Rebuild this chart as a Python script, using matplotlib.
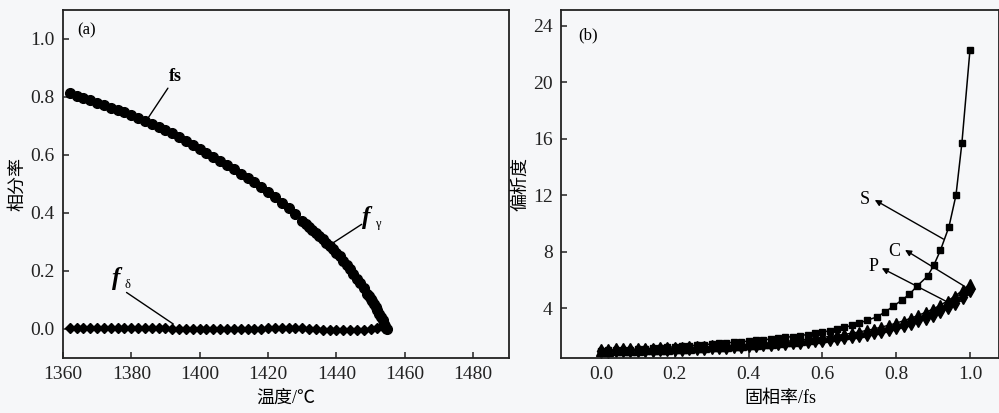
import matplotlib
matplotlib.use("Agg")
import matplotlib.pyplot as plt

# ---------------- data: panel (a) ----------------
temp_fs = [1362, 1364, 1366, 1368, 1370, 1372, 1374, 1376, 1378, 1380,
           1382, 1384, 1386, 1388, 1390, 1392, 1394, 1396, 1398, 1400,
           1402, 1404, 1406, 1408, 1410, 1412, 1414, 1416, 1418, 1420,
           1422, 1424, 1426, 1428, 1430, 1431, 1432, 1433, 1434, 1435,
           1436, 1437, 1438, 1439, 1440, 1441, 1442, 1443, 1444, 1445,
           1446, 1447, 1448, 1449, 1449.5, 1450, 1450.5, 1451, 1451.5, 1452,
           1452.5, 1453, 1453.5, 1454, 1454.3, 1454.7]
frac_fs = [0.815, 0.805, 0.797, 0.788, 0.779, 0.771, 0.763, 0.755, 0.747, 0.739,
           0.728, 0.718, 0.708, 0.698, 0.687, 0.675, 0.662, 0.649, 0.635, 0.620,
           0.606, 0.592, 0.578, 0.564, 0.550, 0.536, 0.521, 0.506, 0.490, 0.473,
           0.455, 0.436, 0.416, 0.395, 0.373, 0.362, 0.352, 0.341, 0.331, 0.320,
           0.309, 0.298, 0.287, 0.275, 0.263, 0.250, 0.236, 0.221, 0.206, 0.190,
           0.174, 0.157, 0.140, 0.122, 0.113, 0.104, 0.095, 0.085, 0.075, 0.064,
           0.053, 0.042, 0.030, 0.018, 0.010, 0.000]

temp_delta = [1362, 1364, 1366, 1368, 1370, 1372, 1374, 1376, 1378, 1380,
              1382, 1384, 1386, 1388, 1390, 1392, 1394, 1396, 1398, 1400,
              1402, 1404, 1406, 1408, 1410, 1412, 1414, 1416, 1418, 1420,
              1422, 1424, 1426, 1428, 1430, 1432, 1434, 1436, 1438, 1440,
              1442, 1444, 1446, 1448, 1450, 1452, 1454]
frac_delta = [0.002, 0.002, 0.002, 0.002, 0.002, 0.002, 0.002, 0.002, 0.002, 0.002,
              0.002, 0.002, 0.002, 0.002, 0.002, 0.001, 0.001, 0.001, 0.001, 0.001,
              0.001, 0.001, 0.001, 0.001, 0.001, 0.001, 0.001, 0.001, 0.001, 0.002,
              0.002, 0.002, 0.002, 0.002, 0.002, 0.001, 0.000, -0.002, -0.003, -0.003,
              -0.003, -0.003, -0.003, -0.002, 0.000, 0.002, 0.004]

xticks_a = [1360, 1380, 1400, 1420, 1440, 1460, 1480]
yticks_a = [0.0, 0.2, 0.4, 0.6, 0.8, 1.0]

# ---------------- data: panel (b) ----------------
fs_S = [0.00, 0.02, 0.04, 0.06, 0.08, 0.10, 0.12, 0.14, 0.16, 0.18,
        0.20, 0.22, 0.24, 0.26, 0.28, 0.30, 0.32, 0.34, 0.36, 0.38,
        0.40, 0.42, 0.44, 0.46, 0.48, 0.50, 0.52, 0.54, 0.56, 0.58,
        0.60, 0.62, 0.64, 0.66, 0.68, 0.70, 0.72, 0.747, 0.770, 0.792,
        0.815, 0.836, 0.856, 0.885, 0.902, 0.920, 0.943, 0.962, 0.978, 1.000]
seg_S = [1.00, 1.02, 1.04, 1.06, 1.08, 1.11, 1.14, 1.17, 1.20, 1.24,
         1.27, 1.31, 1.35, 1.39, 1.43, 1.47, 1.51, 1.55, 1.59, 1.63,
         1.67, 1.72, 1.77, 1.82, 1.88, 1.94, 2.00, 2.07, 2.14, 2.22,
         2.31, 2.41, 2.52, 2.65, 2.79, 2.95, 3.14, 3.38, 3.74, 4.14,
         4.57, 4.99, 5.56, 6.27, 7.05, 8.11, 9.77, 12.00, 15.68, 22.30]

fs_CP = [0.00, 0.02, 0.04, 0.06, 0.08, 0.10, 0.12, 0.14, 0.16, 0.18,
         0.20, 0.22, 0.24, 0.26, 0.28, 0.30, 0.32, 0.34, 0.36, 0.38,
         0.40, 0.42, 0.44, 0.46, 0.48, 0.50, 0.52, 0.54, 0.56, 0.58,
         0.60, 0.62, 0.64, 0.66, 0.68, 0.70, 0.72, 0.74, 0.76, 0.78,
         0.80, 0.82, 0.84, 0.86, 0.88, 0.90, 0.92, 0.94, 0.96, 0.98, 1.00]
seg_C = [1.00, 1.01, 1.02, 1.04, 1.05, 1.07, 1.09, 1.11, 1.13, 1.15,
         1.17, 1.19, 1.22, 1.25, 1.27, 1.30, 1.33, 1.36, 1.39, 1.42,
         1.45, 1.49, 1.53, 1.57, 1.61, 1.66, 1.71, 1.76, 1.82, 1.88,
         1.94, 2.01, 2.08, 2.16, 2.24, 2.33, 2.43, 2.54, 2.67, 2.80,
         2.95, 3.12, 3.30, 3.50, 3.72, 3.95, 4.23, 4.54, 4.88, 5.28, 5.75]
seg_P = [1.00, 1.01, 1.02, 1.03, 1.04, 1.05, 1.07, 1.08, 1.10, 1.11,
         1.13, 1.15, 1.17, 1.19, 1.21, 1.24, 1.26, 1.29, 1.31, 1.34,
         1.37, 1.40, 1.44, 1.47, 1.51, 1.54, 1.59, 1.63, 1.68, 1.73,
         1.78, 1.84, 1.90, 1.97, 2.04, 2.11, 2.20, 2.30, 2.41, 2.52,
         2.65, 2.80, 2.96, 3.14, 3.33, 3.55, 3.80, 4.08, 4.40, 4.80, 5.30]

xticks_b = [0.0, 0.2, 0.4, 0.6, 0.8, 1.0]
yticks_b = [4, 8, 12, 16, 20, 24]

# ---------------- style ----------------
SERIF = ['Liberation Serif', 'Noto Sans CJK SC', 'DejaVu Sans']
LABEL = ['Liberation Serif', 'Noto Sans CJK SC', 'DejaVu Sans']
plt.rcParams['font.family'] = SERIF
bg = '#f6f7f9'

fig = plt.figure(figsize=(9.99, 4.13), dpi=100, facecolor=bg)
axA = fig.add_axes([0.063, 0.1332, 0.4465, 0.8426])
axB = fig.add_axes([0.5616, 0.1332, 0.4384, 0.8426])

for ax in (axA, axB):
    ax.set_facecolor(bg)
    for s in ax.spines.values():
        s.set_linewidth(1.3)
        s.set_color('#222222')
    ax.tick_params(direction='in', length=4, width=1.1, labelsize=14,
                   top=False, right=False, pad=6, colors='#222222')

# panel (a)
axA.plot(temp_delta, frac_delta, color='black', marker='D', markersize=5.5,
         linewidth=1.0, linestyle='-')
axA.plot(temp_fs, frac_fs, color='black', marker='o', markersize=7,
         linewidth=1.0, linestyle='-')
axA.set_xlim(1360, 1490.5)
axA.set_ylim(-0.1, 1.1)
axA.set_xticks(xticks_a)
axA.set_yticks(yticks_a)
axA.set_yticklabels([f'{v:.1f}' for v in yticks_a])
axA.set_xlabel('温度/℃', family=LABEL, fontsize=13, labelpad=5)
axA.set_ylabel('相分率', family=LABEL, fontsize=13, labelpad=3)
axA.text(1367, 1.03, '(a)', fontsize=12, ha='center', va='center')

axA.annotate('fs', xy=(1384.6, 0.722), xytext=(1391.0, 0.84),
             fontsize=13, fontweight='bold', ha='left', va='bottom',
             arrowprops=dict(arrowstyle='-', color='black', lw=1.0,
                             shrinkA=0, shrinkB=0))
# f_gamma
axA.annotate('', xy=(1437.6, 0.286), xytext=(1447.4, 0.361),
             arrowprops=dict(arrowstyle='-', color='black', lw=1.0,
                             shrinkA=0, shrinkB=0))
axA.text(1447.6, 0.345, 'f', fontsize=18, fontstyle='italic',
         fontweight='bold', ha='left', va='bottom')
axA.annotate('γ', xy=(1447.6, 0.345), xytext=(9, -1), textcoords='offset points',
             fontsize=9, ha='left', va='bottom')
# f_delta
axA.annotate('', xy=(1392.3, 0.017), xytext=(1378.6, 0.126),
             arrowprops=dict(arrowstyle='-', color='black', lw=1.0,
                             shrinkA=0, shrinkB=0))
axA.text(1374.5, 0.135, 'f', fontsize=18, fontstyle='italic',
         fontweight='bold', ha='left', va='bottom')
axA.annotate('δ', xy=(1374.5, 0.135), xytext=(9, -1), textcoords='offset points',
             fontsize=9, ha='left', va='bottom')

# panel (b)
axB.plot(fs_CP, seg_P, color='black', marker='d', markersize=7,
         linewidth=1.0)
axB.plot(fs_CP, seg_C, color='black', marker='^', markersize=7,
         linewidth=1.0)
axB.plot(fs_S, seg_S, color='black', marker='s', markersize=5,
         linewidth=1.1)
axB.set_xlim(-0.108, 1.0786)
axB.set_ylim(0.48, 25.12)
axB.set_xticks(xticks_b)
axB.set_yticks(yticks_b)
axB.set_xticklabels([f'{v:.1f}' for v in xticks_b])
axB.set_xlabel('固相率/fs', family=LABEL, fontsize=13, labelpad=5)
axB.set_ylabel('偏析度', family=LABEL, fontsize=13, labelpad=3)
axB.text(-0.035, 23.35, '(b)', fontsize=12, ha='center', va='center')

arrow = dict(arrowstyle='-|>', color='black', lw=1.0, mutation_scale=9,
             shrinkA=0, shrinkB=0)
axB.annotate('', xy=(0.742, 11.67), xytext=(0.928, 8.9), arrowprops=arrow)
axB.text(0.728, 11.7, 'S', fontsize=13, ha='right', va='center')
axB.annotate('', xy=(0.824, 8.13), xytext=(0.986, 5.54), arrowprops=arrow)
axB.text(0.812, 8.05, 'C', fontsize=13, ha='right', va='center')
axB.annotate('', xy=(0.761, 6.84), xytext=(0.937, 4.47), arrowprops=arrow)
axB.text(0.752, 6.95, 'P', fontsize=13, ha='right', va='center')

fig.savefig('out.png', dpi=100, facecolor=bg)
